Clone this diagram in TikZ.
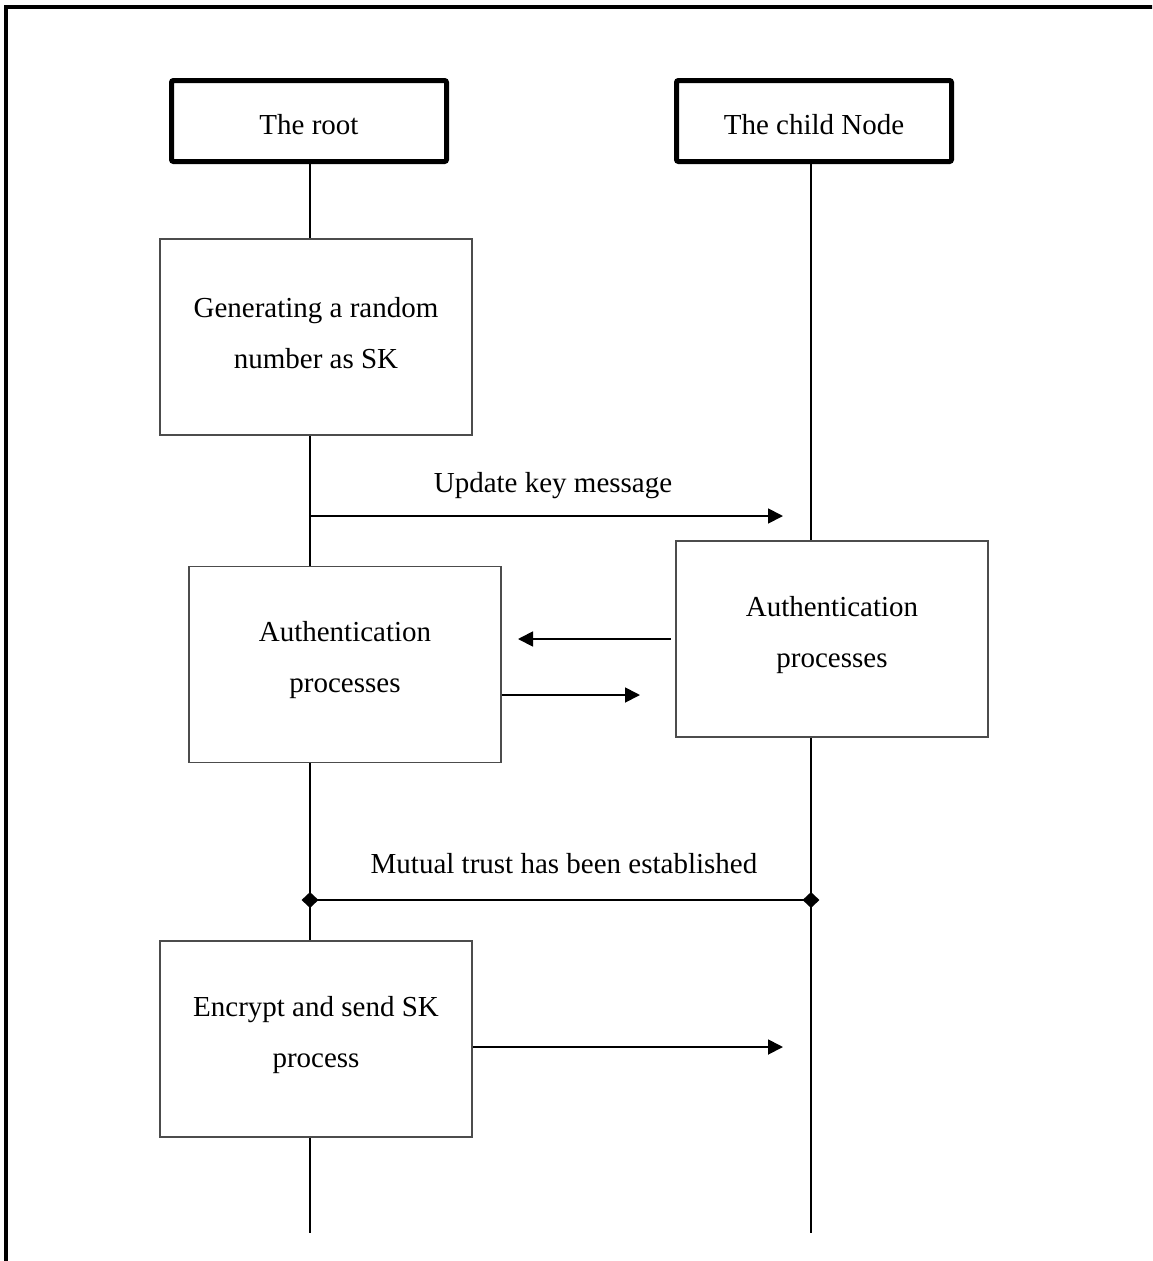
\documentclass[tikz,border=0pt]{standalone}
\usepackage{fontspec}
\setmainfont{Liberation Serif}
\usetikzlibrary{arrows.meta,shapes.geometric}

\begin{document}
\begin{tikzpicture}[x=1pt,y=-1pt,
  txt/.style={font=\fontsize{29}{51}\selectfont, align=center},
  header/.style={draw, line width=5pt, rounded corners=2pt,
    minimum width=275pt, minimum height=81pt, fill=white,
    label={[txt,yshift=-4pt]center:#1}},
  procbox/.style={draw=black!70, line width=1.5pt, fill=white,
    minimum width=312pt, minimum height=196pt,
    label={[txt,yshift=4pt]center:#1}},
  lifeline/.style={line width=2pt},
  msg/.style={line width=1.8pt, -{Triangle[length=15pt,width=15pt]}},
  knot/.style={diamond, fill=black, inner sep=0pt,
    minimum width=17pt, minimum height=16pt}
]
\useasboundingbox (0,0) rectangle (1152,1261);
\clip (0,0) rectangle (1152,1261);

% outer frame
\draw[line width=4.5pt] (6,7) rectangle (1180,1290);

% participants and their lifelines
\node[header={The root}] (root) at (309,121) {};
\node[header={The child Node}] (child) at (814,121) {};
\coordinate (rootEnd) at (310,1233);
\coordinate (childEnd) at (811,1233);
\draw[lifeline] (rootEnd |- root.south) -- (rootEnd);
\draw[lifeline] (childEnd |- child.south) -- (childEnd);

% process boxes
\node[procbox={Generating a random\\number as SK}] (gen) at (316,337) {};
\node[procbox={Authentication\\processes}] (authL) at (345,664.5) {};
\node[procbox={Authentication\\processes}] (authR) at (832,639) {};
\node[procbox={Encrypt and send SK\\process}] (enc) at (316,1039) {};

% update key message
\coordinate (updFrom) at (310,516);
\coordinate (updTo) at (783,516);
\draw[msg] (updFrom) -- (updTo);
\node[txt] (updLbl) at (553,486) {Update key message};

% authentication exchange
\coordinate (backFrom) at (671,639);
\coordinate (backTo) at (518,639);
\draw[msg] (backFrom) -- (backTo);
\coordinate (fwdTo) at (640,695);
\draw[msg] (authL.east |- fwdTo) -- (fwdTo);

% mutual trust
\node[knot] (trustL) at (310,900) {};
\node[knot] (trustR) at (811,900) {};
\draw[line width=1.8pt] (trustL.center) -- (trustR.center);
\node[txt] (trustLbl) at (564,864) {Mutual trust has been established};

% sending SK
\coordinate (skTo) at (783,1047);
\draw[msg] (enc.east |- skTo) -- (skTo);
\end{tikzpicture}
\end{document}
